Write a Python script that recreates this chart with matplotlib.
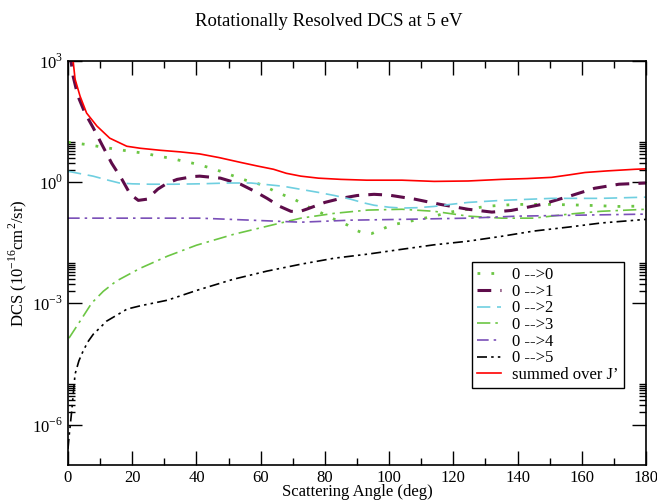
import numpy as np
import matplotlib
matplotlib.use("Agg")
import matplotlib.pyplot as plt
from matplotlib.ticker import FixedLocator, NullFormatter

plt.rcParams["font.family"] = ["Liberation Serif", "DejaVu Serif"]
plt.rcParams["mathtext.fontset"] = "custom"
plt.rcParams["mathtext.rm"] = "Liberation Serif"

# angles (deg) and log10(DCS)
ang_00 = [0, 6, 13, 18, 23.4, 28, 32, 36, 40, 44, 47.5, 52.8, 55.3, 60.6, 65, 70.4, 75, 79.7, 83,
          87, 89.7, 92, 94.6, 97, 99.6, 102, 105, 110, 115, 119, 124.6, 130, 135, 140, 151, 161,
          171.5, 180]
log_00 = [0.99, 0.93, 0.84, 0.78, 0.72, 0.65, 0.59, 0.52, 0.45, 0.36, 0.27, 0.12, 0.05, -0.07,
          -0.25, -0.42, -0.62, -0.79, -0.92, -1.06, -1.19, -1.26, -1.27, -1.19, -1.10, -1.04,
          -0.99, -0.91, -0.82, -0.74, -0.67, -0.60, -0.57, -0.55, -0.55, -0.57, -0.60, -0.59]

ang_01 = [0.6, 1.6, 3.1, 5.3, 7.9, 10.5, 13.6, 16.8, 19.4, 21.9, 24.6, 28, 31, 34, 39, 41, 47.5, 53.75,
          58, 62, 66, 69.4, 72, 74.6, 80, 85, 90, 95.3, 100, 104, 108, 116, 124.6, 132, 138, 147.5,
          156, 164, 171.6, 180]
log_01 = [3.2, 2.62, 2.13, 1.71, 1.34, 0.94, 0.47, 0.07, -0.30, -0.45, -0.42, -0.17, -0.02, 0.07,
          0.14, 0.15, 0.10, -0.05, -0.22, -0.40, -0.60, -0.72, -0.73, -0.66, -0.50, -0.40, -0.33,
          -0.30, -0.32, -0.37, -0.42, -0.55, -0.67, -0.74, -0.70, -0.55, -0.35, -0.15, -0.05, -0.02]

ang_02 = [0, 7.8, 12, 16, 20, 25.6, 33, 41, 50, 57, 62, 67, 72, 77.8, 83, 88, 92, 95.3, 100, 104,
          109, 114, 119, 124.7, 135, 150.6, 166, 180]
log_02 = [0.27, 0.15, 0.06, -0.02, -0.04, -0.05, -0.05, -0.04, -0.02, -0.02, -0.06, -0.10, -0.17,
          -0.25, -0.33, -0.42, -0.51, -0.57, -0.62, -0.64, -0.63, -0.60, -0.55, -0.50, -0.45,
          -0.40, -0.40, -0.37]

ang_03 = [0.3, 3.75, 7.4, 11, 15, 22.5, 31, 40, 51.6, 62, 72.5, 83, 93.4, 104, 114, 124.6, 135,
          145, 156, 166, 180]
log_03 = [-3.86, -3.44, -2.99, -2.70, -2.45, -2.13, -1.83, -1.56, -1.29, -1.09, -0.89, -0.77,
          -0.69, -0.67, -0.72, -0.84, -0.89, -0.89, -0.79, -0.72, -0.67]

ang_04 = [0, 41, 57, 72.5, 88, 104, 124.6, 140, 156, 180]
log_04 = [-0.89, -0.89, -0.94, -0.99, -0.94, -0.92, -0.89, -0.84, -0.82, -0.79]

ang_05 = [0, 0.4, 1.15, 2.2, 3.4, 4.7, 6.2, 7.9, 10, 12, 15, 18.4, 22.5, 31, 40, 51.6, 62, 72.5,
          83, 93.4, 104, 114, 124.6, 135, 145, 156, 166, 180]
log_05 = [-6.6, -6.24, -5.67, -4.75, -4.42, -4.18, -3.95, -3.76, -3.60, -3.44, -3.30, -3.14,
          -3.06, -2.92, -2.68, -2.40, -2.20, -2.03, -1.88, -1.78, -1.66, -1.55, -1.46, -1.34,
          -1.21, -1.11, -1.01, -0.92]

ang_sum = [0.6, 1.6, 2.2, 3.75, 5.8, 9, 13, 18.3, 22.5, 28.75, 35, 41, 47, 53.75, 59, 64, 68,
           72.5, 78, 85, 93, 104, 114, 124.6, 135, 143, 150.6, 156, 161, 168, 176.6, 180]
log_sum = [3.3, 3.0, 2.55, 2.13, 1.71, 1.39, 1.09, 0.89, 0.84, 0.79, 0.75, 0.70, 0.61, 0.49,
           0.40, 0.32, 0.22, 0.15, 0.10, 0.07, 0.05, 0.05, 0.02, 0.03, 0.07, 0.09, 0.12, 0.18,
           0.24, 0.28, 0.32, 0.33]

labels = ["0 -->0", "0 -->1", "0 -->2", "0 -->3", "0 -->4", "0 -->5", "summed over J\u2019"]

fig = plt.figure(figsize=(6.57, 5.04), dpi=100)
ax = fig.add_axes([68 / 657, 1 - 465 / 504, 578 / 657, 404 / 504])

ax.plot(ang_00, 10 ** np.array(log_00), color="#6cc644", lw=2, ls=(0, (1, 4)), label=labels[0])
ax.plot(ang_01, 10 ** np.array(log_01), color="#5e0c4a", lw=2.2, ls=(0, (4.5, 3)), label=labels[1])
ax.plot(ang_02, 10 ** np.array(log_02), color="#6fcfe0", lw=1.2, ls=(0, (8, 4)), label=labels[2])
ax.plot(ang_03, 10 ** np.array(log_03), color="#6cc644", lw=1.2, ls=(0, (8, 3, 1.5, 3)), label=labels[3])
ax.plot(ang_04, 10 ** np.array(log_04), color="#7a4fb8", lw=1.2, ls=(0, (7, 3, 1.5, 3)), label=labels[4])
ax.plot(ang_05, 10 ** np.array(log_05), color="black", lw=1.2, ls=(0, (6, 2.5, 1.5, 2.5, 1.5, 2.5)), label=labels[5])
ax.plot(ang_sum, 10 ** np.array(log_sum), color="red", lw=1.2, label=labels[6])

ax.set_yscale("log")
ax.set_xlim(0, 180)
ax.set_ylim(1e-7, 1e3)
ax.set_xticks(np.arange(0, 181, 20))
ax.set_xticks(np.arange(0, 181, 10), minor=True)
ax.yaxis.set_major_locator(FixedLocator([1e-6, 1e-3, 1e0, 1e3]))
ax.yaxis.set_minor_locator(FixedLocator([k * 10.0 ** e for e in (-6, -3, 0) for k in range(2, 11)]))
ax.yaxis.set_minor_formatter(NullFormatter())
ax.set_yticklabels(["$10^{-6}$", "$10^{-3}$", "$10^{0}$", "$10^{3}$"])
ax.tick_params(which="both", direction="in", top=True, right=True, labelsize=12, width=1)
ax.tick_params(which="major", length=10)
ax.tick_params(which="minor", length=5)
for s in ax.spines.values():
    s.set_linewidth(1.2)

ax.set_xlabel("Scattering Angle (deg)", fontsize=12, labelpad=-1)
ax.set_ylabel("DCS (10$^{-16}$cm$^{2}$/sr)", fontsize=12, labelpad=2)
fig.suptitle("Rotationally Resolved DCS at 5 eV", fontsize=13.5, y=0.975)

leg = ax.legend(loc="upper left", bbox_to_anchor=(404 / 578, 1 - (262 - 61) / 404), fontsize=12,
                frameon=True, fancybox=False, edgecolor="black", framealpha=1, handlelength=1.45,
                labelspacing=0.04, borderpad=0.3, handletextpad=0.65, borderaxespad=0)
leg.get_frame().set_linewidth(1)

fig.savefig("out.png", dpi=100)
